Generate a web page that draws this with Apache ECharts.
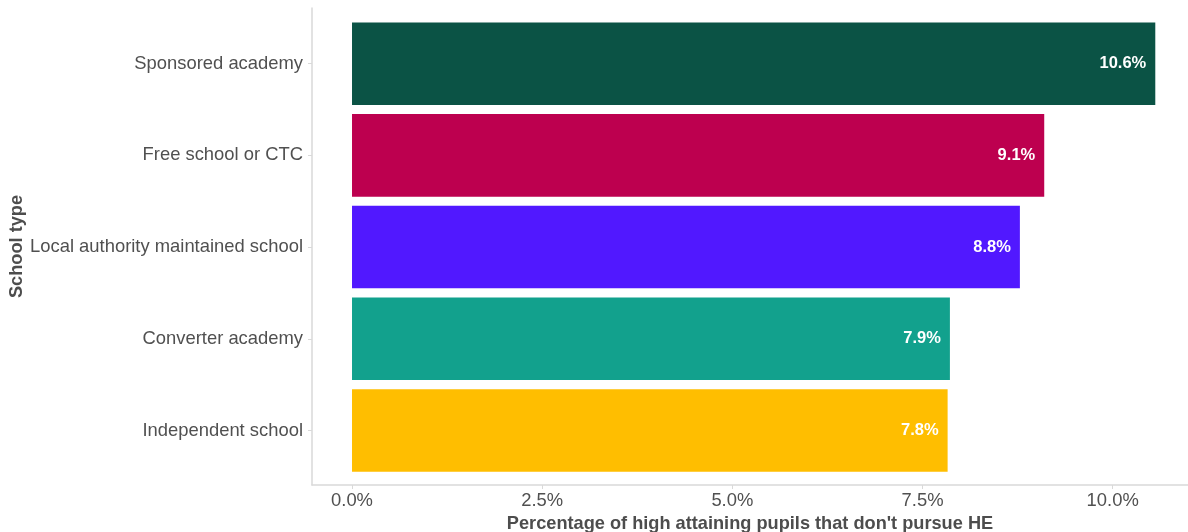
<!DOCTYPE html>
<html>
<head>
<meta charset="utf-8">
<script src="https://cdn.jsdelivr.net/npm/echarts@6/dist/echarts.min.js"></script>
<style>
  html, body { margin: 0; padding: 0; background: #ffffff; }
  #chart { width: 1188px; height: 532px; }
</style>
</head>
<body>
<div id="chart"></div>
<script>
// School types, top to bottom
const schoolTypes = [
  'Sponsored academy',
  'Free school or CTC',
  'Local authority maintained school',
  'Converter academy',
  'Independent school'
];
// Percentage of high attaining pupils that don't pursue HE
const shareNoHE = [10.56, 9.1, 8.78, 7.86, 7.83];
const barColors = ['#0b5345', '#bd004f', '#5118ff', '#12a18d', '#ffbe00'];
const xTicks = [0, 2.5, 5, 7.5, 10];

const font = 'Liberation Sans, Arial, sans-serif';
const xMin = -0.526, xMax = 10.99;

// category axis runs bottom-to-top, so reverse for the top-down order
const cats = schoolTypes.slice().reverse();
const vals = shareNoHE.slice().reverse();
const cols = barColors.slice().reverse();

const pct1 = v => (Math.round(v * 10) / 10).toFixed(1) + '%';

const chart = echarts.init(document.getElementById('chart'));
chart.setOption({
  animation: false,
  backgroundColor: '#ffffff',
  grid: [
    // panel frame carrying the axis lines
    { left: 312, right: 0, top: 8, height: 477, outerBoundsMode: 'none', containLabel: false },
    // inner band area holding the bars (expanded panel minus padding)
    { left: 312, right: 0, top: 17.8, height: 458.6, outerBoundsMode: 'none', containLabel: false }
  ],
  xAxis: [
    {
      gridIndex: 0, type: 'value', min: xMin, max: xMax,
      axisLine: { show: true, onZero: false, lineStyle: { color: '#d9d9d9', width: 1.5 } },
      axisTick: { show: true, customValues: xTicks, length: 4, lineStyle: { color: '#d9d9d9' } },
      axisLabel: {
        customValues: xTicks, margin: 7,
        color: '#505050', fontSize: 18.4, fontFamily: font,
        formatter: v => v.toFixed(1) + '%'
      },
      splitLine: { show: false },
      name: "Percentage of high attaining pupils that don't pursue HE",
      nameLocation: 'middle', nameGap: 29,
      nameTextStyle: { color: '#4d4d4d', fontSize: 18.2, fontWeight: 'bold', fontFamily: font }
    },
    {
      gridIndex: 1, type: 'value', min: xMin, max: xMax,
      axisLine: { show: false }, axisTick: { show: false },
      axisLabel: { show: false }, splitLine: { show: false }
    }
  ],
  yAxis: [
    {
      gridIndex: 0, type: 'value', min: 0, max: 1,
      axisLine: { show: true, onZero: false, lineStyle: { color: '#d9d9d9', width: 1.5 } },
      axisTick: { show: false }, axisLabel: { show: false }, splitLine: { show: false },
      name: 'School type', nameLocation: 'middle', nameGap: 286, nameRotate: 90,
      nameTextStyle: { color: '#4d4d4d', fontSize: 18.2, fontWeight: 'bold', fontFamily: font }
    },
    {
      gridIndex: 1, type: 'category', data: cats,
      axisLine: { show: false, onZero: false },
      axisTick: { show: true, alignWithLabel: true, length: 4, lineStyle: { color: '#d9d9d9' } },
      axisLabel: { color: '#505050', fontSize: 18.4, fontFamily: font, margin: 9 },
      splitLine: { show: false }
    }
  ],
  series: [{
    type: 'bar',
    xAxisIndex: 1, yAxisIndex: 1,
    barWidth: '90%',
    data: vals.map((v, i) => ({ value: v, itemStyle: { color: cols[i] } })),
    label: {
      show: true, position: 'insideRight', distance: 9,
      color: '#ffffff', fontSize: 16.5, fontWeight: 'bold', fontFamily: font,
      formatter: p => pct1(p.value)
    }
  }]
});
</script>
</body>
</html>
